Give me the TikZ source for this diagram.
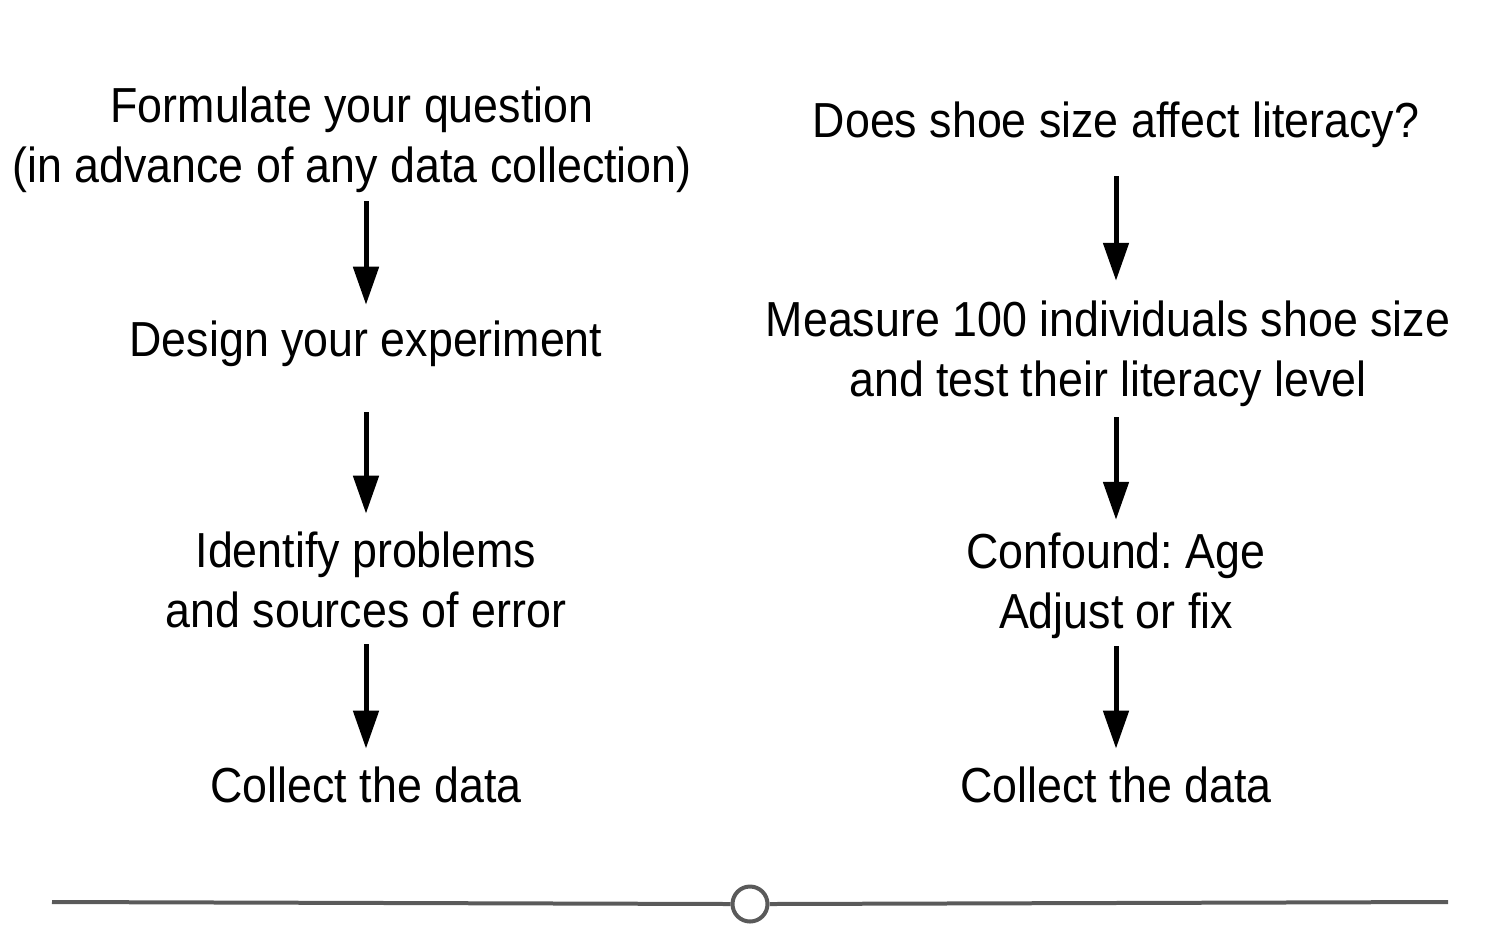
\documentclass[tikz,border=0pt]{standalone}
\usepackage{fontspec}
\setmainfont{Liberation Sans}[FakeStretch=0.91]
\usepackage{xcolor}
\usetikzlibrary{arrows.meta,positioning,calc}
\definecolor{rulegray}{HTML}{5A5A5A}
\frenchspacing
\tikzset{
  txt/.style  ={inner sep=0pt, align=center, font=\fontsize{28pt}{34.1pt}\selectfont},
  ar/.style   ={-{Triangle[length=7.6mm, width=5mm]}, line width=1mm, draw=black},
  rule/.style ={line width=0.8mm, draw=rulegray},
}
\begin{document}
\begin{tikzpicture}[x=0.02cm, y=-0.02cm]
\useasboundingbox (0,0) rectangle (1500,938);

% left column
\node[txt] (ques)  at (352,140) {Formulate your question\\(in advance of any data collection)};
\node[txt] (design) at (366,344) {Design your experiment};
\node[txt] (ident) at (366,580) {Identify problems\\and sources of error};
\node[txt] (collA) at (366,785) {Collect the data};

% right column
\node[txt] (shoe)  at (1116,125) {Does shoe size affect literacy?};
\node[txt] (meas)  at (1108,354) {Measure 100 individuals shoe size\\and test their literacy level};
\node[txt] (conf)  at (1116,586) {Confound: Age\\Adjust or fix};
\node[txt] (collB) at (1116,785) {Collect the data};

\draw[ar, shorten <=1.6mm, shorten >=3.2mm] (design |- ques.south) -- (design.north);
\draw[ar, shorten <=9mm, shorten >=3.6mm] (design.south) -- (ident.north);
\draw[ar, shorten <=3.2mm, shorten >=3.6mm] (ident.south) -- (collA.north);
\draw[ar, shorten <=5.6mm, shorten >=4mm] (shoe.south) -- (shoe.south |- meas.north);
\draw[ar, shorten <=2mm, shorten >=2.6mm] (conf |- meas.south) -- (conf.north);
\draw[ar, shorten <=1.4mm, shorten >=3.6mm] (conf.south) -- (collB.north);

% timeline
\node[circle, draw=rulegray, line width=0.8mm, fill=white, minimum size=0.7cm, inner sep=0pt] (knob) at (750,904) {};
\coordinate (ruleL) at (52,902);
\coordinate (ruleR) at (1448,902);
\draw[rule] (ruleL) -- (knob.west);
\draw[rule] (knob.east) -- (ruleR);
\end{tikzpicture}
\end{document}
